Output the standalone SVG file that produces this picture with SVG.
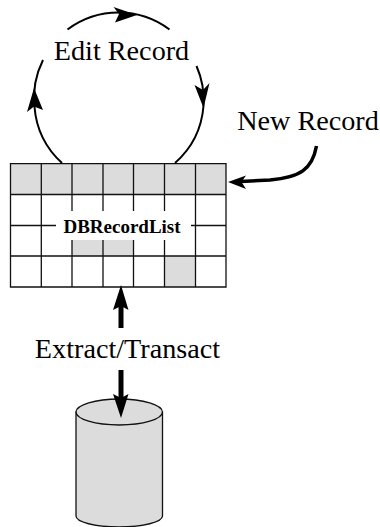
<svg xmlns="http://www.w3.org/2000/svg" width="380" height="527" viewBox="0 0 380 527">
<style>
.t{font-family:"Liberation Serif","Times New Roman",serif;font-size:28.200px;fill:#000}
.b{font-family:"Liberation Serif","Times New Roman",serif;font-size:19px;font-weight:bold;fill:#000}
.g{fill:#dcdcdc;stroke:none}
.l{stroke:#111;stroke-width:1.300;fill:none}
.a{stroke:#000;stroke-width:2;fill:none}
.h{fill:#000;stroke:none}
</style>
<rect width="380" height="527" fill="#fff"/>
<g id="record-list">
<rect class="g" x="10.500" y="163.700" width="215.500" height="30.600"/>
<rect class="g" x="72" y="225.500" width="61.500" height="30.500"/>
<rect class="g" x="164.500" y="256" width="31" height="31"/>
<path class="l" d="M10.500 163.700H226V287H10.500ZM10.500 194.500H226M10.500 225.500H226M10.500 256H226M41.300 163.700V287M72 163.700V287M103 163.700V287M133.500 163.700V287M164.500 163.700V287M195.500 163.700V287"/>
<rect x="56" y="211" width="135" height="29" fill="#fff"/>
<text class="b" x="122" y="232.500" text-anchor="middle">DBRecordList</text>
</g>
<g id="edit-record"><text class="t" x="121.500" y="60" text-anchor="middle">Edit Record</text></g>
<g id="new-record"><text class="t" x="308" y="130" text-anchor="middle">New Record</text></g>
<g id="extract-transact"><text class="t" x="127.500" y="358" text-anchor="middle">Extract/Transact</text></g>
<g id="database">
<path d="M76 412V516C76 522 95 527 119 527S162.500 522 162.500 516V412Z" fill="#dcdcdc" stroke="#111" stroke-width="1.300"/>
<ellipse cx="119.200" cy="412" rx="43.200" ry="13" fill="#dcdcdc" stroke="#111" stroke-width="1.300"/>
</g>
<g id="connectors">
<path class="a" d="M62 163A85 85 0 0 1 34.500 107A85 85 0 0 1 43 60"/>
<path class="h" d="M34 88L43 110L34 106.500L27 112Z"/>
<path class="a" d="M67.500 29.500A85 85 0 0 1 169.500 29.500"/>
<path class="h" d="M137 15L115 22.500L119 14L113.500 7Z"/>
<path class="a" d="M196.500 66A85 85 0 0 1 203.500 106A85 85 0 0 1 175 163"/>
<path class="h" d="M203.500 108L194.500 85L203 90L209.500 83Z"/>
<path d="M316.500 146C312 170 300 177 270 180L240 181.500" fill="none" stroke="#000" stroke-width="3.500"/>
<path class="h" d="M228 182L246 175.500L241.500 182L246 189Z"/>
<path d="M121 328V305" fill="none" stroke="#000" stroke-width="5"/>
<path class="h" d="M121 285L128.500 310L121 306L113 310Z"/>
<path d="M121 370V400" fill="none" stroke="#000" stroke-width="5"/>
<path class="h" d="M121 418L128.500 394L121 398L113 394Z"/>
</g>
</svg>
